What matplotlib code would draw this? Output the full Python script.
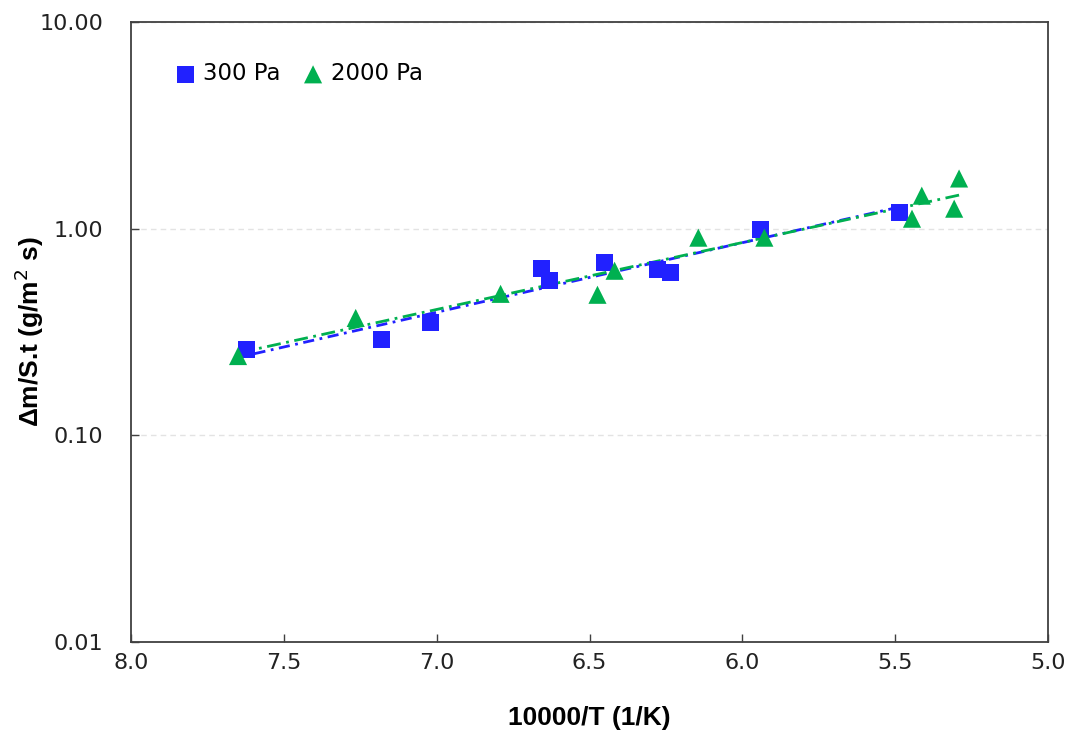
import numpy as np
import matplotlib
matplotlib.use('Agg')
import matplotlib.pyplot as plt

#data
x_300 = [7.621, 7.180, 7.020, 6.657, 6.631, 6.451, 6.278, 6.235, 5.941, 5.487]
y_300 = [0.259, 0.290, 0.350, 0.640, 0.560, 0.684, 0.633, 0.612, 0.990, 1.200]

x_2000 = [7.650, 7.265, 6.791, 6.474, 6.418, 6.144, 5.928, 5.445, 5.413, 5.307, 5.291]
y_2000 = [0.242, 0.370, 0.484, 0.479, 0.626, 0.905, 0.905, 1.118, 1.445, 1.250, 1.750]

x_ticks = [8.0, 7.5, 7.0, 6.5, 6.0, 5.5, 5.0]
y_ticks = [0.01, 0.1, 1, 10]
y_ticklabels = ['0.01', '0.10', '1.00', '10.00']

blue = '#2121FF'
green = '#00B050'


#exponential trendline (fit of log y against x)
def trend(x, y):
    x = np.asarray(x)
    b, a = np.polyfit(x, np.log(y), 1)
    xs = np.linspace(x.min(), x.max(), 100)
    return xs, np.exp(a + b * xs)


fig = plt.figure(figsize=(10.75, 7.35), dpi=100)
ax = fig.add_axes([0.1219, 0.1265, 0.8530, 0.8435])

ax.set_yscale('log')
ax.set_xlim(8.0, 5.0)
ax.set_ylim(0.01, 10)

ax.grid(axis='y', which='major', color='#E3E3E3', linestyle=(0, (4, 3)), linewidth=1)
ax.set_axisbelow(True)

xs, ys = trend(x_300, y_300)
ax.plot(xs, ys, color=blue, linestyle=(0, (4, 2, 1, 2)), linewidth=2, zorder=3)
xs, ys = trend(x_2000, y_2000)
ax.plot(xs, ys, color=green, linestyle=(0, (5, 2, 1, 2)), linewidth=2, zorder=3)

ax.scatter(x_300, y_300, marker='s', s=150, color=blue, edgecolors='none', zorder=4, label='300 Pa')
ax.scatter(x_2000, y_2000, marker='^', s=170, color=green, edgecolors='none', zorder=4, label='2000 Pa')

ax.set_xticks(x_ticks)
ax.set_xticklabels([f'{v:.1f}' for v in x_ticks])
ax.set_yticks(y_ticks)
ax.set_yticklabels(y_ticklabels)
ax.yaxis.set_minor_locator(matplotlib.ticker.NullLocator())
ax.tick_params(axis='both', which='major', direction='in', length=6, width=1,
               color='#404040', labelsize=16, labelcolor='#222222')
ax.tick_params(axis='x', pad=8)
ax.tick_params(axis='y', pad=20)

for sp in ax.spines.values():
    sp.set_color('#404040')
    sp.set_linewidth(1.3)

ax.set_xlabel('10000/T (1/K)', fontsize=19, fontweight='bold', family='Liberation Sans', labelpad=24)
ax.set_ylabel('Δm/S.t (g/m$^2$ s)', fontsize=19, fontweight='bold', family='Liberation Sans', labelpad=-5)

ax.legend(loc='upper left', bbox_to_anchor=(0.049, 0.935), ncol=2, frameon=False,
          borderpad=0, borderaxespad=0, handlelength=0.8,
          fontsize=16.5, handletextpad=0.4, columnspacing=1.0, markerscale=1.0)

fig.savefig('out.png', dpi=100)
